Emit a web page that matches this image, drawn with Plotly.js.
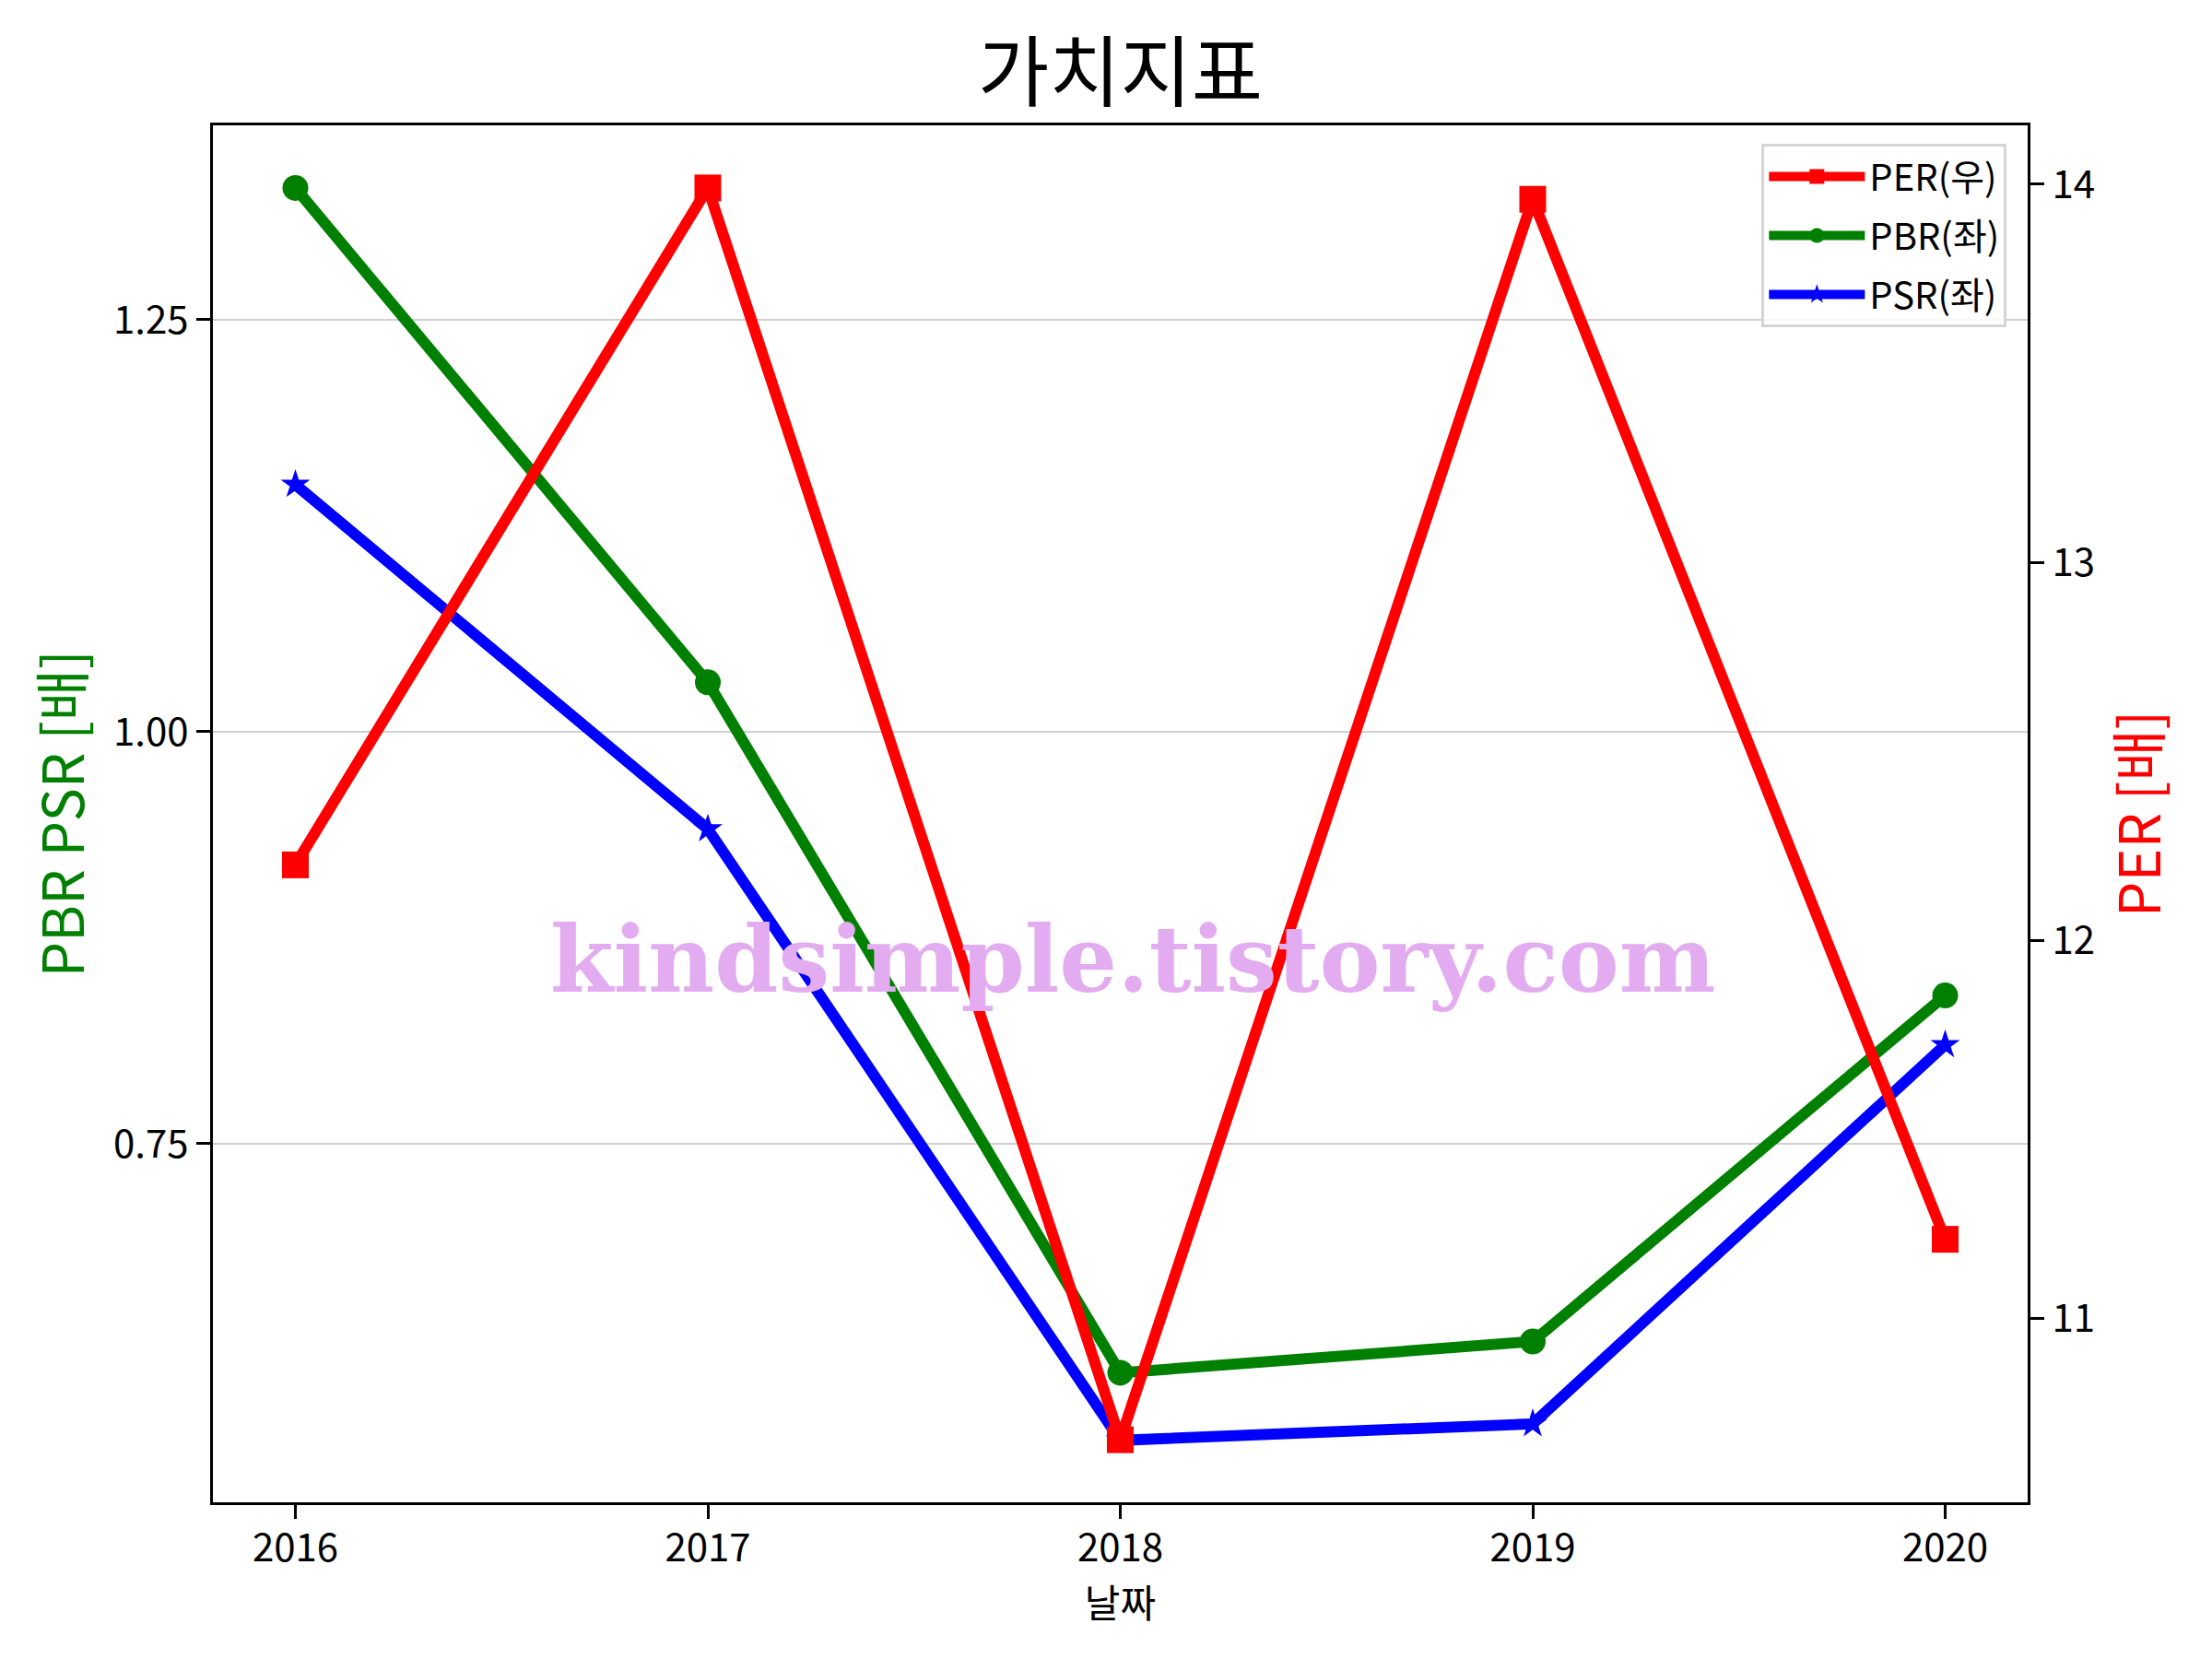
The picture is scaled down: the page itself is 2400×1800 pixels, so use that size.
<!DOCTYPE html>
<html>
<head>
<meta charset="utf-8">
<script src="https://cdn.plot.ly/plotly-3.0.1.min.js"></script>
<style>html,body{margin:0;padding:0;background:#fff;}</style>
</head>
<body>
<div id="chart" style="width:2400px;height:1800px;"></div>
<script>
const years = [2016, 2017, 2018, 2019, 2020];
const perValues = [12.2, 13.99, 10.68, 13.96, 11.21];
const pbrValues = [1.33, 1.03, 0.611, 0.630, 0.840];
const psrValues = [1.15, 0.941, 0.570, 0.580, 0.810];
const leftTicks = [0.75, 1.00, 1.25];
const rightTicks = [11, 12, 13, 14];

const FONT = '"Noto Sans CJK KR", "Noto Sans", sans-serif';

const traces = [
  {
    x: years, y: perValues, name: 'PER(우)', yaxis: 'y2', mode: 'lines+markers', legendgroup: 'a',
    line: {color: 'red', width: 12},
    marker: {symbol: 'square', size: 29, color: 'red'}
  },
  {
    x: years, y: pbrValues, name: 'PBR(좌)', yaxis: 'y', mode: 'lines+markers', legendgroup: 'b',
    line: {color: 'green', width: 12},
    marker: {symbol: 'circle', size: 28, color: 'green'}
  },
  {
    x: years, y: psrValues, name: 'PSR(좌)', yaxis: 'y', mode: 'lines+markers', legendgroup: 'c',
    line: {color: 'blue', width: 12},
    marker: {symbol: 'star', size: 24, color: 'blue'}
  }
];

const layout = {
  width: 2400, height: 1800,
  paper_bgcolor: 'white', plot_bgcolor: 'white',
  font: {family: FONT, size: 42, color: 'black'},
  margin: {l: 231, r: 200, t: 136, b: 170, pad: 0},
  showlegend: true,
  title: {
    text: '가치지표', font: {family: FONT, size: 84, color: 'black'},
    x: 0.5, xref: 'paper', xanchor: 'center',
    y: 1 - 80/1800, yref: 'container', yanchor: 'middle'
  },
  xaxis: {
    range: [2015.8, 2020.2], tickvals: years, ticktext: years.map(String),
    showgrid: false, zeroline: false,
    showline: true, linecolor: 'black', linewidth: 3, mirror: true,
    ticks: 'outside', ticklen: 15, tickwidth: 3, tickcolor: 'black',
    ticklabelstandoff: -4,
    tickfont: {family: FONT, size: 42, color: 'black'},
    title: {text: '날짜', font: {family: FONT, size: 42, color: 'black'}, standoff: 0}
  },
  yaxis: {
    range: [0.5324, 1.368], tickvals: leftTicks, tickformat: '.2f',
    showgrid: true, gridcolor: '#d0d0d0', gridwidth: 2, zeroline: false,
    showline: true, linecolor: 'black', linewidth: 3, mirror: true,
    ticks: 'outside', ticklen: 15, tickwidth: 3, tickcolor: 'black',
    tickfont: {family: FONT, size: 42, color: 'black'},
    title: {text: 'PBR PSR [배]', font: {family: FONT, size: 61, color: 'green'}, standoff: 12}
  },
  yaxis2: {
    range: [10.5145, 14.1555], tickvals: rightTicks,
    overlaying: 'y', side: 'right', anchor: 'x',
    showgrid: false, zeroline: false,
    showline: true, linecolor: 'black', linewidth: 3,
    ticks: 'outside', ticklen: 15, tickwidth: 3, tickcolor: 'black',
    tickfont: {family: FONT, size: 42, color: 'black'},
    title: {text: 'PER [배]', font: {family: FONT, size: 61, color: 'red'}, standoff: 30}
  },
  legend: {
    x: 0.9885, xanchor: 'right', y: 0.9866, yanchor: 'top',
    bgcolor: 'rgba(255,255,255,0.85)', bordercolor: '#d5d5d5', borderwidth: 3,
    font: {family: FONT, size: 40, color: 'black'},
    itemwidth: 104, tracegroupgap: 9, traceorder: 'grouped'
  },
  annotations: [
    {
      text: '<b>kindsimple.tistory.com</b>', xref: 'paper', yref: 'paper',
      x: 0.507, y: 0.394, xanchor: 'center', yanchor: 'middle', showarrow: false,
      font: {family: '"DejaVu Serif", serif', size: 99, color: 'rgb(228,172,240)'}
    }
  ]
};

Plotly.newPlot('chart', traces, layout, {displayModeBar: false, staticPlot: true});
</script>
</body>
</html>
